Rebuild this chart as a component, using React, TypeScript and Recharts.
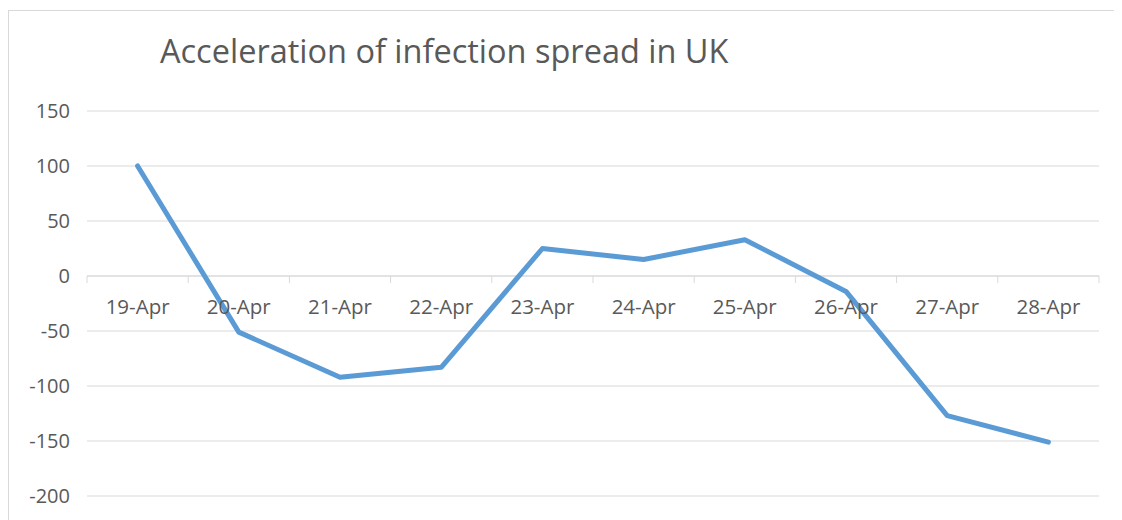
import React from 'react';
import { LineChart, Line, XAxis, YAxis, CartesianGrid, ReferenceLine } from 'recharts';

const categories = ['19-Apr', '20-Apr', '21-Apr', '22-Apr', '23-Apr', '24-Apr', '25-Apr', '26-Apr', '27-Apr', '28-Apr'];
const acceleration = [100, -51, -92, -83, 25, 15, 33, -14, -127, -151];
const yTicks = [-200, -150, -100, -50, 0, 50, 100, 150];
const chartTitle = 'Acceleration of infection spread in UK';

const data = categories.map((date, i) => ({ date, value: acceleration[i], axis: 0 }));

const W = 1113;
const H = 509;
const MARGIN = { top: 100, right: 23, bottom: 24, left: 18 };
const Y_AXIS_W = 60;
const PLOT_W = W - MARGIN.left - MARGIN.right - Y_AXIS_W;
const STEP = PLOT_W / categories.length;
const FONT = '"Open Sans", "Noto Sans", sans-serif';
const TEXT_COLOR = '#595959';
const GRID = '#d9d9d9';

const CategoryLabel = (props: any) => {
  const { x, y, index } = props;
  const isLast = index === categories.length - 1;
  return (
    <g>
      <line x1={x - STEP / 2} x2={x - STEP / 2} y1={y} y2={y + 7} stroke={GRID} strokeWidth={1} />
      {isLast && <line x1={x + STEP / 2} x2={x + STEP / 2} y1={y} y2={y + 7} stroke={GRID} strokeWidth={1} />}
      <text x={x} y={y + 38} textAnchor="middle" fill={TEXT_COLOR} fontFamily={FONT} fontSize={20.5}>
        {categories[index]}
      </text>
    </g>
  );
};

export default function App() {
  return (
    <div
      style={{
        position: 'relative',
        marginTop: 2,
        width: W,
        height: H,
        borderTop: `1px solid ${GRID}`,
        borderLeft: `1px solid ${GRID}`,
        background: '#fff',
      }}
    >
      <LineChart width={W} height={H} data={data} margin={MARGIN}>
        <CartesianGrid vertical={false} stroke={GRID} strokeWidth={1} />
        <XAxis dataKey="date" hide padding={{ left: STEP / 2, right: STEP / 2 }} />
        <YAxis
          width={Y_AXIS_W}
          domain={[-200, 150]}
          ticks={yTicks}
          interval={0}
          axisLine={false}
          tickLine={false}
          tickSize={0}
          tickMargin={17}
          tick={{ fill: TEXT_COLOR, fontFamily: FONT, fontSize: 20 }}
        />
        <ReferenceLine y={0} stroke={GRID} strokeWidth={1} />
        <Line
          dataKey="axis"
          stroke="none"
          dot={false}
          activeDot={false}
          isAnimationActive={false}
          label={<CategoryLabel />}
        />
        <Line
          dataKey="value"
          stroke="#5b9bd5"
          strokeWidth={5}
          strokeLinejoin="round"
          strokeLinecap="round"
          dot={false}
          activeDot={false}
          isAnimationActive={false}
        />
      </LineChart>
      <svg
        width={W}
        height={80}
        style={{ position: 'absolute', left: 0, top: 0, pointerEvents: 'none' }}
      >
        <text x={151} y={52} fill={TEXT_COLOR} fontFamily={FONT} fontSize={32.5}>
          {chartTitle}
        </text>
      </svg>
    </div>
  );
}
